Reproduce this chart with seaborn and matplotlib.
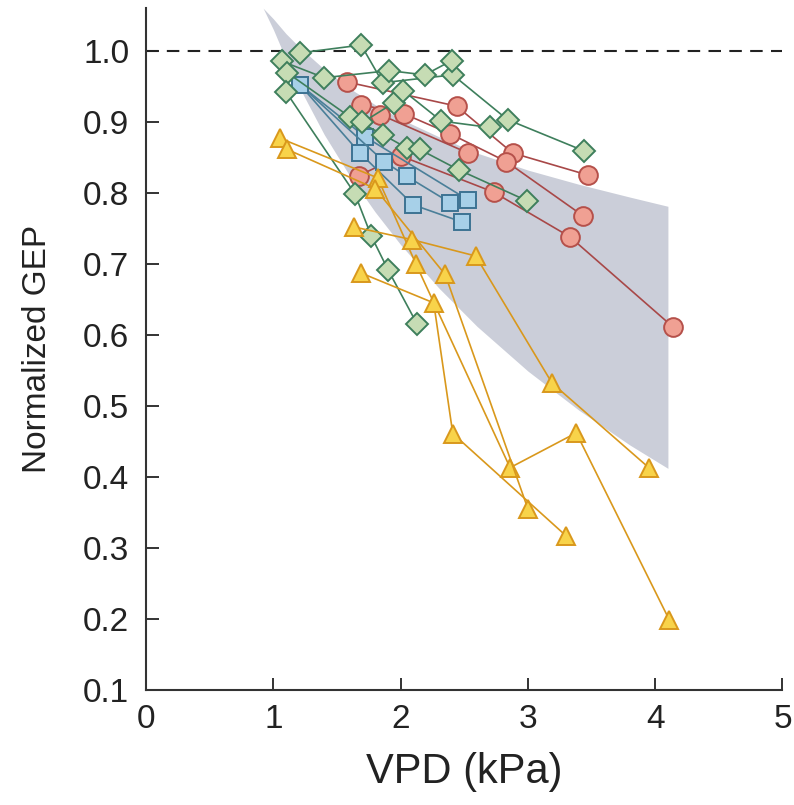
import matplotlib
matplotlib.use("Agg")
import matplotlib.pyplot as plt
import seaborn as sns
import pandas as pd

# Envelope of the fitted response (shaded band)
band_vpd = [0.92, 1.0, 1.1, 1.2, 1.4, 1.6, 1.8, 2.0, 2.3, 2.6, 3.0, 3.4, 3.8, 4.1]
band_upper = [1.06, 1.045, 1.024, 1.006, 0.974, 0.947, 0.924, 0.904, 0.879, 0.856, 0.832, 0.812, 0.794, 0.781]
band_lower = [1.06, 1.030, 0.988, 0.950, 0.882, 0.824, 0.773, 0.727, 0.666, 0.612, 0.549, 0.494, 0.445, 0.412]

# Sites, grouped by plant functional type
red_vpd = [[1.58, 2.44, 2.88, 3.47],
           [1.69, 2.03, 2.39, 2.83, 3.43],
           [1.84, 2.53],
           [1.67, 2.00, 2.73, 3.33, 4.14]]
red_gep = [[0.956, 0.922, 0.856, 0.825],
           [0.924, 0.911, 0.883, 0.844, 0.768],
           [0.910, 0.856],
           [0.824, 0.852, 0.801, 0.738, 0.611]]

blue_vpd = [[1.21, 1.72, 2.53],
            [1.21, 1.68, 2.10, 2.48],
            [1.21, 1.87, 2.05, 2.39]]
blue_gep = [[0.952, 0.879, 0.790],
            [0.952, 0.856, 0.783, 0.759],
            [0.952, 0.844, 0.823, 0.786]]

green_vpd = [[1.21, 1.69, 1.86, 2.41, 2.84, 3.44],
             [1.07, 1.40, 1.91, 2.19, 2.40],
             [1.11, 1.60, 1.86, 2.05, 2.15, 2.46, 2.99],
             [1.70, 1.95, 2.02, 2.32, 2.70],
             [1.10, 1.64, 1.77, 1.90, 2.13]]
green_gep = [[0.997, 1.008, 0.955, 0.966, 0.903, 0.859],
             [0.985, 0.962, 0.972, 0.966, 0.986],
             [0.969, 0.907, 0.882, 0.863, 0.861, 0.832, 0.789],
             [0.899, 0.927, 0.944, 0.901, 0.892],
             [0.942, 0.799, 0.739, 0.692, 0.615]]

orange_vpd = [[1.05, 1.82, 2.12, 2.86, 3.38, 4.11],
              [1.11, 1.80, 2.35, 3.00],
              [1.63, 2.09, 2.59, 3.19, 3.95],
              [1.69, 2.26, 2.41, 3.30]]
orange_gep = [[0.877, 0.821, 0.700, 0.413, 0.462, 0.199],
              [0.861, 0.806, 0.685, 0.355],
              [0.752, 0.734, 0.711, 0.532, 0.413],
              [0.687, 0.645, 0.461, 0.317]]

x_ticks = [0, 1, 2, 3, 4, 5]
y_ticks = [0.1, 0.2, 0.3, 0.4, 0.5, 0.6, 0.7, 0.8, 0.9, 1.0]
y_tick_labels = ["0.1", "0.2", "0.3", "0.4", "0.5", "0.6", "0.7", "0.8", "0.9", "1.0"]


def to_frame(vpds, geps):
    rows = []
    for i, (xs, ys) in enumerate(zip(vpds, geps)):
        for order, (x, y) in enumerate(zip(xs, ys)):
            rows.append({"site": i, "order": order, "vpd": x, "gep": y})
    return pd.DataFrame(rows)


sns.set_style("ticks")
plt.rcParams["font.family"] = ["Liberation Sans", "DejaVu Sans"]

fig = plt.figure(figsize=(7.94, 8.05), dpi=100)
ax = fig.add_axes([0.1839, 0.1429, 0.8016, 0.847])

ax.fill_between(band_vpd, band_lower, band_upper, color="#cbced9", lw=0, zorder=1)
ax.axhline(1.0, color="#222222", lw=1.5, ls=(0, (6, 4)), zorder=2)

groups = [
    (red_vpd, red_gep, "o", 13.5, "#f0a093", "#b5504a", "#a84848"),
    (blue_vpd, blue_gep, "s", 12, "#a7d0e8", "#3d7393", "#4a7f99"),
    (green_vpd, green_gep, "D", 11.5, "#c6dcb4", "#3e7f5c", "#3e7f5c"),
    (orange_vpd, orange_gep, "^", 13.5, "#f8d34a", "#d9981c", "#d9981c"),
]

for z, (vpds, geps, mk, ms, face, edge, line) in enumerate(groups):
    df = to_frame(vpds, geps)
    sns.lineplot(data=df, x="vpd", y="gep", units="site", estimator=None,
                 sort=False, color=line, lw=1.2, marker=mk, markersize=ms,
                 markerfacecolor=face, markeredgecolor=edge, markeredgewidth=1.4,
                 ax=ax, zorder=3 + z, legend=False)

ax.set_xlim(0, 5)
ax.set_ylim(0.1, 1.06)
ax.set_xticks(x_ticks)
ax.set_yticks(y_ticks)
ax.set_yticklabels(y_tick_labels)
sns.despine(ax=ax)
for s in ["left", "bottom"]:
    ax.spines[s].set_linewidth(1.5)
    ax.spines[s].set_color("#333333")
ax.tick_params(direction="in", length=9, width=1.4, colors="#333333",
               labelcolor="#222222", labelsize=24)
ax.tick_params(axis="y", pad=12)
ax.tick_params(axis="x", pad=10)
ax.set_xlabel("VPD (kPa)", fontsize=30, color="#222222", labelpad=12)
ax.set_ylabel("Normalized GEP", fontsize=24, color="#222222", labelpad=22)

fig.savefig("out.png", dpi=100)
